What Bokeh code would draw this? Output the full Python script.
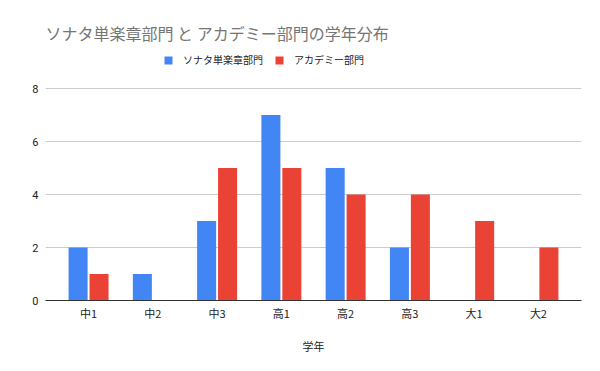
from bokeh.plotting import figure
from bokeh.models import FactorRange, FixedTicker, Legend, LegendItem, ColumnDataSource, Label
from bokeh.transform import dodge
from bokeh.embed import file_html
from bokeh.resources import INLINE

categories = ["中1", "中2", "中3", "高1", "高2", "高3", "大1", "大2"]
sonata = [2, 1, 3, 7, 5, 2, 0, 0]
academy = [1, 0, 5, 5, 4, 4, 3, 2]
series_names = ["ソナタ単楽章部門", "アカデミー部門"]
y_ticks = [0, 2, 4, 6, 8]
title_text = "ソナタ単楽章部門 と アカデミー部門の学年分布"
x_title = "学年"

BLUE = "#4285F4"
RED = "#EA4335"
CJK = "Noto Sans CJK JP"

source = ColumnDataSource(dict(x=categories, s=sonata, a=academy))

# frame spans canvas top (0) to y=300; value axis 0..8 occupies the lower 212 px
y_top = max(y_ticks) * 300 / 212

p = figure(
    width=600, height=371,
    x_range=FactorRange(factors=categories, range_padding=0.17, range_padding_units="absolute"),
    y_range=(0, y_top),
    output_backend="svg", toolbar_location=None,
    min_border_left=45, min_border_right=19, min_border_top=0, min_border_bottom=71,
)
p.title = None
p.outline_line_color = None

w = 0.296
r1 = p.vbar(x=dodge("x", -0.163, range=p.x_range), top="s", width=w, source=source,
            fill_color=BLUE, line_color=None)
r2 = p.vbar(x=dodge("x", 0.163, range=p.x_range), top="a", width=w, source=source,
            fill_color=RED, line_color=None)

p.yaxis.ticker = FixedTicker(ticks=y_ticks)
p.yaxis.axis_line_color = None
p.yaxis.major_tick_line_color = None
p.yaxis.minor_tick_line_color = None
p.yaxis.major_label_text_font = "Roboto"
p.yaxis.major_label_text_font_size = "11px"
p.yaxis.major_label_text_color = "#222222"
p.yaxis.major_label_standoff = 1

p.xaxis.axis_line_color = "#333333"
p.xaxis.major_tick_line_color = None
p.xaxis.minor_tick_line_color = None
p.xaxis.major_label_text_font = CJK
p.xaxis.major_label_text_font_size = "11px"
p.xaxis.major_label_text_color = "#222222"
p.xaxis.major_label_standoff = -2
p.xaxis.axis_label = x_title
p.xaxis.axis_label_text_font = CJK
p.xaxis.axis_label_text_font_size = "11px"
p.xaxis.axis_label_text_font_style = "normal"
p.xaxis.axis_label_text_color = "#222222"
p.xaxis.axis_label_standoff = 14

p.xgrid.grid_line_color = None
p.ygrid.grid_line_color = "#cccccc"
p.ygrid.ticker = FixedTicker(ticks=y_ticks)

legend = Legend(
    items=[LegendItem(label=series_names[0], renderers=[r1]),
           LegendItem(label=series_names[1], renderers=[r2])],
    orientation="horizontal",
    location=(118, 233),
    glyph_width=10, glyph_height=10,
    label_standoff=10, spacing=11,
    label_text_font=CJK, label_text_font_size="10px", label_text_color="#222222",
    padding=0, margin=0,
    border_line_color=None, background_fill_alpha=0,
)
p.add_layout(legend)

title = Label(x=0, y=268, x_units="screen", y_units="screen",
              text=title_text, text_font=CJK, text_font_size="16px",
              text_color="#757575", text_baseline="alphabetic", text_align="left")
p.add_layout(title)

open("out.html", "w").write(file_html(p, INLINE))
